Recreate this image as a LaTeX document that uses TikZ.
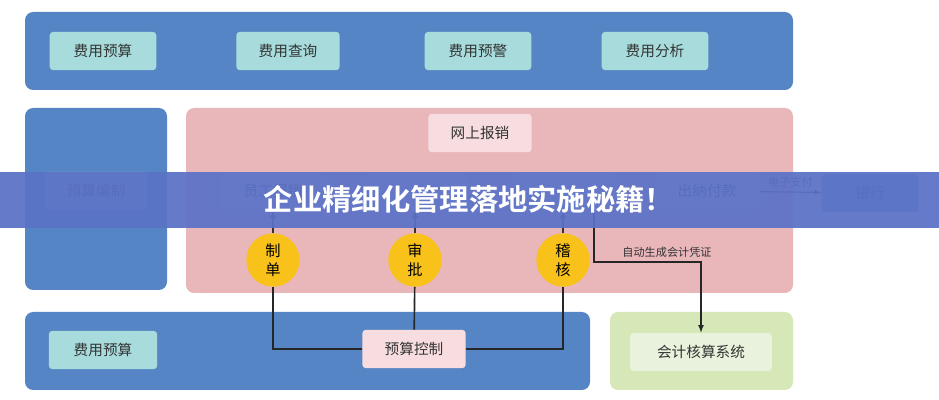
\documentclass[tikz,border=0pt]{standalone}
\usepackage{fontspec}
\setmainfont{Noto Sans CJK SC}
\newfontfamily\titlefont{Noto Sans CJK SC Bold}
\usetikzlibrary{positioning}
\definecolor{panelblue}{HTML}{5585C4}
\definecolor{btnteal}{HTML}{A8DCDC}
\definecolor{panelpink}{HTML}{E9B6BA}
\definecolor{btnpink}{HTML}{F7DDE0}
\definecolor{panelgreen}{HTML}{D6E8B8}
\definecolor{btngreen}{HTML}{E9F2DC}
\definecolor{coin}{HTML}{F8C21A}
\definecolor{bandblue}{HTML}{5A72C6}
\tikzset{
  panel/.style={rounded corners=7pt},
  btn/.style={rounded corners=3pt, minimum height=1.15cm, inner sep=0pt, font=\fontsize{12.5}{14}\selectfont, text=black!80},
  coinnode/.style={circle, fill=coin, minimum size=1.6cm, inner sep=0pt, align=center, font=\fontsize{13}{16}\selectfont},
  link/.style={line width=1.4pt, black!85},
  note/.style={font=\fontsize{9.5}{11}\selectfont, text=black!80}
}
\begin{document}
\begin{tikzpicture}[x=0.03cm, y=-0.03cm, >=latex]
    \useasboundingbox (0,0) rectangle (939,400);
    \fill[white] (0,0) rectangle (939,400);

    % top row
    \fill[panelblue, panel] (25,12) rectangle (793,90);
    \node[btn, fill=btnteal, minimum width=3.2cm] (budget) at (103,51) {费用预算};
    \node[btn, fill=btnteal, minimum width=3.1cm] (query) at (288,51) {费用查询};
    \node[btn, fill=btnteal, minimum width=3.2cm] (warn) at (478,51) {费用预警};
    \node[btn, fill=btnteal, minimum width=3.2cm] (analyse) at (655,51) {费用分析};

    % left panel
    \fill[panelblue, panel] (25,108) rectangle (167,290);
    \node[btn, fill=btnteal!60!panelblue, minimum width=3.1cm] (plan) at (96,191) {预算编制};

    % reimbursement panel
    \fill[panelpink, panel] (186,108) rectangle (793,293);
    \node[btn, fill=btnpink, minimum width=3.1cm] (online) at (480,133) {网上报销};
    \node[btn, fill=btnpink!70!panelpink, minimum width=3.2cm] (staff) at (273,191) {员工报销};
    \node[btn, fill=btnpink!70!panelpink, minimum width=3.2cm] (dept) at (415,191) {};
    \node[btn, fill=btnpink!70!panelpink, minimum width=3.2cm] (finance) at (563,191) {};
    \node[btn, fill=btnpink!70!panelpink, minimum width=3.15cm] (cashier) at (707,191) {出纳付款};

    \node[coinnode] (make) at (273,260) {制\\单};
    \node[coinnode] (approve) at (415,260) {审\\批};
    \node[coinnode] (audit) at (563,260) {稽\\核};

    \foreach \c/\b in {make/staff, approve/dept, audit/finance}
        \draw[->, line width=1.2pt, black!80] (\c) -- (\b);

    % bank
    \node[btn, fill=panelblue!75, text=black!75, minimum width=2.9cm] (bank) at (870,193) {银行};
    \draw[->, line width=1pt, black!80] (cashier) -- node[note, above] {电子支付} (bank);

    % bottom row
    \fill[panelblue, panel] (25,312) rectangle (590,390);
    \node[btn, fill=btnteal, minimum width=3.25cm] (cost) at (103,350) {费用预算};
    \node[btn, fill=btnpink, minimum width=3.1cm] (control) at (414,349) {预算控制};

    \fill[panelgreen, panel] (610,312) rectangle (793,390);
    \node[btn, fill=btngreen, minimum width=4.25cm] (ledger) at (701,352) {会计核算系统};

    \draw[link] (make) |- (control);
    \draw[link] (audit) |- (control);
    \draw[link] (approve) -- (control);

    \coordinate (turn) at (594,262);
    \draw[->, line width=1.2pt, black!85] (594,210) -- (turn) -| (ledger.north);
    \node[note] (vouch) at (667,252) {自动生成会计凭证};

    % banner
    \fill[bandblue, opacity=0.93] (0,172) rectangle (939,228);
    \node[text=white, font=\titlefont\fontsize{25}{28}\selectfont] (title) at (469,199) {企业精细化管理落地实施秘籍！};
\end{tikzpicture}
\end{document}
